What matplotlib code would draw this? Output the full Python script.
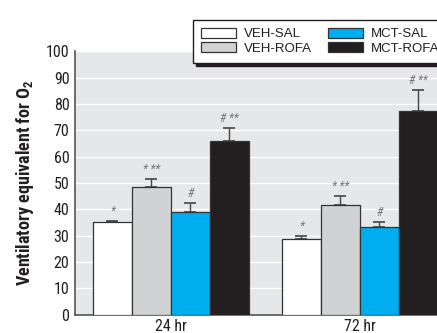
import matplotlib
matplotlib.use("Agg")
import matplotlib.pyplot as plt
from matplotlib import font_manager
import numpy as np

# Ventilatory equivalent for O2 by treatment group and time point
timepoints = ["24 hr", "72 hr"]
groups = ["VEH-SAL", "VEH-ROFA", "MCT-SAL", "MCT-ROFA"]
means = {
    "VEH-SAL":  [35.1, 28.7],
    "VEH-ROFA": [48.6, 41.6],
    "MCT-SAL":  [38.9, 33.2],
    "MCT-ROFA": [65.9, 77.4],
}
errors = {
    "VEH-SAL":  [0.6, 1.2],
    "VEH-ROFA": [2.9, 3.6],
    "MCT-SAL":  [3.4, 1.9],
    "MCT-ROFA": [5.1, 8.0],
}
marks = {
    "VEH-SAL":  ["*", "*"],
    "VEH-ROFA": ["* **", "* **"],
    "MCT-SAL":  ["#", "#"],
    "MCT-ROFA": ["# **", "# **"],
}
yticks = [0, 10, 20, 30, 40, 50, 60, 70, 80, 90, 100]

colors = {
    "VEH-SAL": "#ffffff",
    "VEH-ROFA": "#d1d2d4",
    "MCT-SAL": "#00aeef",
    "MCT-ROFA": "#231f20",
}

# condensed sans face for axis text, regular sans for the legend
available = {f.name for f in font_manager.fontManager.ttflist}
family = next((n for n in ["Roboto Condensed", "IBM Plex Sans Condensed",
                           "Fira Sans Condensed", "Archivo Narrow",
                           "Liberation Sans"] if n in available), "DejaVu Sans")
legend_family = next((n for n in ["Liberation Sans", "Arimo", "Roboto"]
                      if n in available), "DejaVu Sans")

plt.rcParams["font.family"] = [family, "DejaVu Sans"]
plt.rcParams["mathtext.fontset"] = "custom"
plt.rcParams["mathtext.rm"] = family
plt.rcParams["mathtext.bf"] = family + ":bold"

fig = plt.figure(figsize=(4.37, 3.33), dpi=100)
ax = fig.add_axes([75 / 437, 18.3 / 333, 1 - 75 / 437, (314.7 - 51.2) / 333])

ax.set_facecolor("#e6e7e8")
group_gap = 4.85
width = 1.0
for gi, g in enumerate(groups):
    x = np.arange(len(timepoints)) * group_gap + gi * width
    ax.bar(x, means[g], width=width, color=colors[g], edgecolor="#333333",
           linewidth=0.9, label=g, zorder=3)
    ax.errorbar(x, means[g], yerr=[np.zeros(len(x)), errors[g]], fmt="none",
                ecolor="#444444", elinewidth=1.0, capsize=4, capthick=1.2,
                zorder=2)
    for xi, m, e, t in zip(x, means[g], errors[g], marks[g]):
        ax.text(xi, m + e + 3.6, t, ha="center", va="center", fontsize=8.5,
                color="#777777", style="italic", zorder=4)

ax.set_xlim(-0.96, 8.33)
ax.set_ylim(0, 100)
ax.set_yticks(yticks)
ax.yaxis.grid(True, color="white", linewidth=1.0, zorder=1)
ax.set_axisbelow(True)
ax.tick_params(axis="y", length=0, labelsize=11.5, pad=4, labelcolor="#231f20")
ax.set_xticks([1.5, 1.5 + group_gap])
ax.set_xticklabels(timepoints)
ax.tick_params(axis="x", length=0, labelsize=11.5, pad=3, labelcolor="#231f20")
for s in ["top", "right"]:
    ax.spines[s].set_visible(False)
for s in ["left", "bottom"]:
    ax.spines[s].set_color("#555555")
    ax.spines[s].set_linewidth(1.2)

ax.set_ylabel(r"Ventilatory equivalent for O$_\mathbf{2}$", fontsize=13,
              fontweight="bold", color="#231f20", labelpad=7)

leg_font = font_manager.FontProperties(family=legend_family, size=9.5)
leg = ax.legend(ncol=2, loc="upper left",
                bbox_to_anchor=(193 / 437, 1 - 20 / 333),
                bbox_transform=fig.transFigure, prop=leg_font,
                handlelength=2.65, handleheight=0.76, handletextpad=0.6,
                columnspacing=1.2, labelspacing=0.15, borderpad=0.6,
                borderaxespad=0, frameon=True, fancybox=False,
                shadow={"facecolor": "#231f20", "edgecolor": "#231f20",
                        "alpha": 1})
leg.get_frame().set_edgecolor("#231f20")
leg.get_frame().set_linewidth(1.0)
leg.set_zorder(10)
for t in leg.get_texts():
    t.set_color("#231f20")

fig.savefig("out.png", dpi=100)
